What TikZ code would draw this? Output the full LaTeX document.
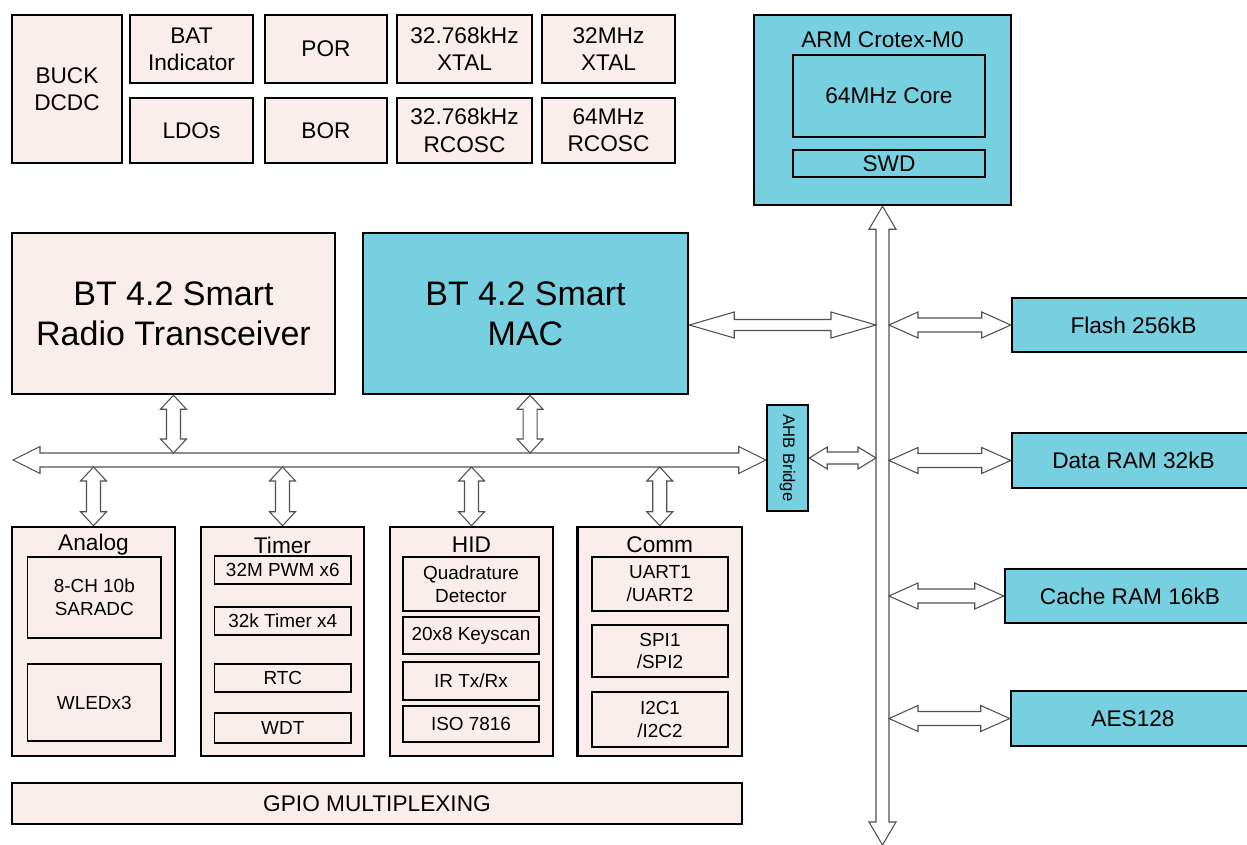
\documentclass[tikz,border=0pt]{standalone}
\usepackage{fontspec}
\setmainfont{Liberation Sans}
\usetikzlibrary{calc}
\definecolor{pinkf}{RGB}{250,238,237}
\definecolor{cyanf}{RGB}{118,208,224}
\definecolor{arrgray}{RGB}{80,80,80}
\pgfdeclarelayer{bg}
\pgfsetlayers{bg,main}
\tikzset{
 sz/.style 2 args={minimum width=#1*0.75pt, minimum height=#2*0.75pt},
 box/.style={draw=black, line width=1.9pt, fill=pinkf, align=center, inner sep=0pt, font=\fontsize{17}{20.5}\selectfont},
 cbox/.style={box, fill=cyanf},
 inbox/.style={draw=black, line width=1.1pt, fill=pinkf, align=center, inner sep=0pt, font=\fontsize{14.2}{17.2}\selectfont},
 big/.style={font=\fontsize{25.5}{30}\selectfont},
 ttl/.style={font=\fontsize{17}{20}\selectfont, inner sep=0pt},
 hollow/.style={draw=arrgray, line width=0.8pt, fill=white, line join=miter},
 dbl/.style n args={3}{to path={
    -- ($(\tikztostart)!#1!(\tikztotarget)!#2!90:(\tikztotarget)$)
    -- ($(\tikztostart)!#1!(\tikztotarget)!#3!90:(\tikztotarget)$)
    -- ($(\tikztotarget)!#1!(\tikztostart)!#3!-90:(\tikztostart)$)
    -- ($(\tikztotarget)!#1!(\tikztostart)!#2!-90:(\tikztostart)$)
    -- (\tikztotarget)
    -- ($(\tikztotarget)!#1!(\tikztostart)!#2!90:(\tikztostart)$)
    -- ($(\tikztotarget)!#1!(\tikztostart)!#3!90:(\tikztostart)$)
    -- ($(\tikztostart)!#1!(\tikztotarget)!#3!-90:(\tikztotarget)$)
    -- ($(\tikztostart)!#1!(\tikztotarget)!#2!-90:(\tikztotarget)$)
    -- cycle}},
 hbus/.style={dbl={20.25pt}{10.125pt}{5.25pt}},
 vbus/.style={dbl={17.25pt}{10.125pt}{4.875pt}},
 sv/.style={dbl={10.5pt}{9.75pt}{5.25pt}},
 macarr/.style={dbl={33.75pt}{9.75pt}{4.125pt}},
 memarr/.style={dbl={21.75pt}{9.75pt}{5.25pt}},
 ahbarr/.style={dbl={13.5pt}{8.25pt}{4.5pt}}
}
\begin{document}
\begin{tikzpicture}[x=0.75pt,y=-0.75pt]
\begin{pgfonlayer}{bg}
\fill[white] (0,0) rectangle (1247,845);
\end{pgfonlayer}
\useasboundingbox (0,0) rectangle (1247,845);

% top row
\node[box, sz={110}{148}] (buck) at (67,89) {BUCK\\DCDC};
\node[box, sz={123}{68}] (bat) at (191.5,49) {BAT\\Indicator};
\node[box, sz={123}{65}] (ldo) at (191.5,130.5) {LDOs};
\node[box, sz={122}{68}] (por) at (326,49) {POR};
\node[box, sz={122}{65}] (bor) at (326,130.5) {BOR};
\node[box, sz={135}{68}] (x32k) at (464.5,49) {32.768kHz\\XTAL};
\node[box, sz={135}{65}] (r32k) at (464.5,130.5) {32.768kHz\\RCOSC};
\node[box, sz={133}{68}] (x32m) at (608.5,49) {32MHz\\XTAL};
\node[box, sz={133}{65}] (r64m) at (608.5,130.5) {64MHz\\RCOSC};

% ARM
\node[cbox, sz={257}{190}] (arm) at (882.5,110) {};
\node[ttl] (armt) at (882.5,40) {ARM Crotex-M0};
\node[cbox, sz={192}{82}] (core) at (889,96) {64MHz Core};
\node[cbox, sz={192}{27}] (swd) at (889,163.5) {SWD};

% BT
\node[box, big, sz={323}{161}] (radio) at (173.5,313.5) {BT 4.2 Smart\\Radio Transceiver};
\node[cbox, big, sz={325}{161}] (mac) at (525.5,313.5) {BT 4.2 Smart\\MAC};

% AHB bridge
\node[cbox, sz={41}{106}] (ahb) at (787.5,458) {};
\node[rotate=-90, font=\fontsize{12.5}{14}\selectfont, inner sep=0pt] (ahbt) at (ahb.center) {AHB Bridge};

% right memories
\node[cbox, sz={243}{54}] (flash) at (1133.5,325) {Flash 256kB};
\node[cbox, sz={243}{55}] (dram) at (1133.5,460.5) {Data RAM 32kB};
\node[cbox, sz={250}{54}] (cram) at (1130,596) {Cache RAM 16kB};
\node[cbox, sz={244}{55}] (aes) at (1133,718.5) {AES128};

% bottom groups
\node[box, sz={163}{229}] (analog) at (93.5,641.5) {};
\node[ttl] (analogt) at (93.5,545) {Analog};
\node[inbox, sz={133.4}{81}] (sar) at (94.3,597.5) {8-CH 10b\\SARADC};
\node[inbox, sz={133.4}{77}] (wled) at (94.3,702.5) {WLEDx3};

\node[box, sz={163}{229}] (timer) at (282.5,641.5) {};
\node[ttl] (timert) at (282.5,545) {Timer};
\node[inbox, sz={136.4}{28}] (pwm) at (282.8,570) {32M PWM x6};
\node[inbox, sz={136.4}{28}] (t32k) at (282.8,621) {32k Timer x4};
\node[inbox, sz={136.4}{28}] (rtc) at (282.8,678) {RTC};
\node[inbox, sz={136.4}{30}] (wdt) at (282.8,728) {WDT};

\node[box, sz={163}{229}] (hid) at (471.5,641.5) {};
\node[ttl] (hidt) at (471.5,545) {HID};
\node[inbox, sz={136}{54}] (quad) at (471,584) {Quadrature\\Detector};
\node[inbox, sz={136}{37}] (keys) at (471,635.5) {20x8 Keyscan};
\node[inbox, sz={136}{38}] (ir) at (471,681) {IR Tx/Rx};
\node[inbox, sz={136}{36}] (iso) at (471,724) {ISO 7816};

\node[box, sz={164.5}{229}] (comm) at (659.75,641.5) {};
\node[ttl] (commt) at (659.75,545) {Comm};
\node[inbox, sz={136}{54}] (uart) at (660,584) {UART1\\/UART2};
\node[inbox, sz={136}{52}] (spi) at (660,651) {SPI1\\/SPI2};
\node[inbox, sz={136}{55}] (i2c) at (660,719.5) {I2C1\\/I2C2};

\node[box, sz={730}{41}] (gpio) at (377,803.5) {GPIO MULTIPLEXING};

% bus coordinates
\coordinate (hbL) at (13,460);
\coordinate (hbR) at (ahb.west |- hbL);
\coordinate (hbN) at (0,453);
\coordinate (hbS) at (0,467);
\coordinate (vbB) at (882.5,845);
\coordinate (vbL) at (876,0);
\coordinate (vbR) at (889,0);
\coordinate (macS) at ([xshift=3.4pt]mac.south);
\coordinate (macE) at (mac.east |- flash.west);
\coordinate (macT) at (vbL |- macE);
\coordinate (radB) at (radio.south |- hbN);
\coordinate (macB) at (macS |- hbN);
\coordinate (anaT) at (analog.north |- hbS);
\coordinate (timT) at (timer.north |- hbS);
\coordinate (hidT) at (hid.north |- hbS);
\coordinate (comT) at (comm.north |- hbS);
\coordinate (ahbT) at (vbL |- ahb.east);
\coordinate (flaS) at (vbR |- flash.west);
\coordinate (draS) at (vbR |- dram.west);
\coordinate (craS) at (vbR |- cram.west);
\coordinate (aesS) at (vbR |- aes.west);

\begin{pgfonlayer}{bg}
\draw[hollow] (arm.south) to[vbus] (vbB);
\draw[hollow] (hbL) to[hbus] (hbR);
\draw[hollow] (radio.south) to[sv] (radB);
\draw[hollow] (macS) to[sv] (macB);
\draw[hollow] (anaT) to[sv] (analog.north);
\draw[hollow] (timT) to[sv] (timer.north);
\draw[hollow] (hidT) to[sv] (hid.north);
\draw[hollow] (comT) to[sv] (comm.north);
\draw[hollow] (macE) to[macarr] (macT);
\draw[hollow] (ahb.east) to[ahbarr] (ahbT);
\draw[hollow] (flaS) to[memarr] (flash.west);
\draw[hollow] (draS) to[memarr] (dram.west);
\draw[hollow] (craS) to[memarr] (cram.west);
\draw[hollow] (aesS) to[memarr] (aes.west);
\end{pgfonlayer}
\end{tikzpicture}
\end{document}
